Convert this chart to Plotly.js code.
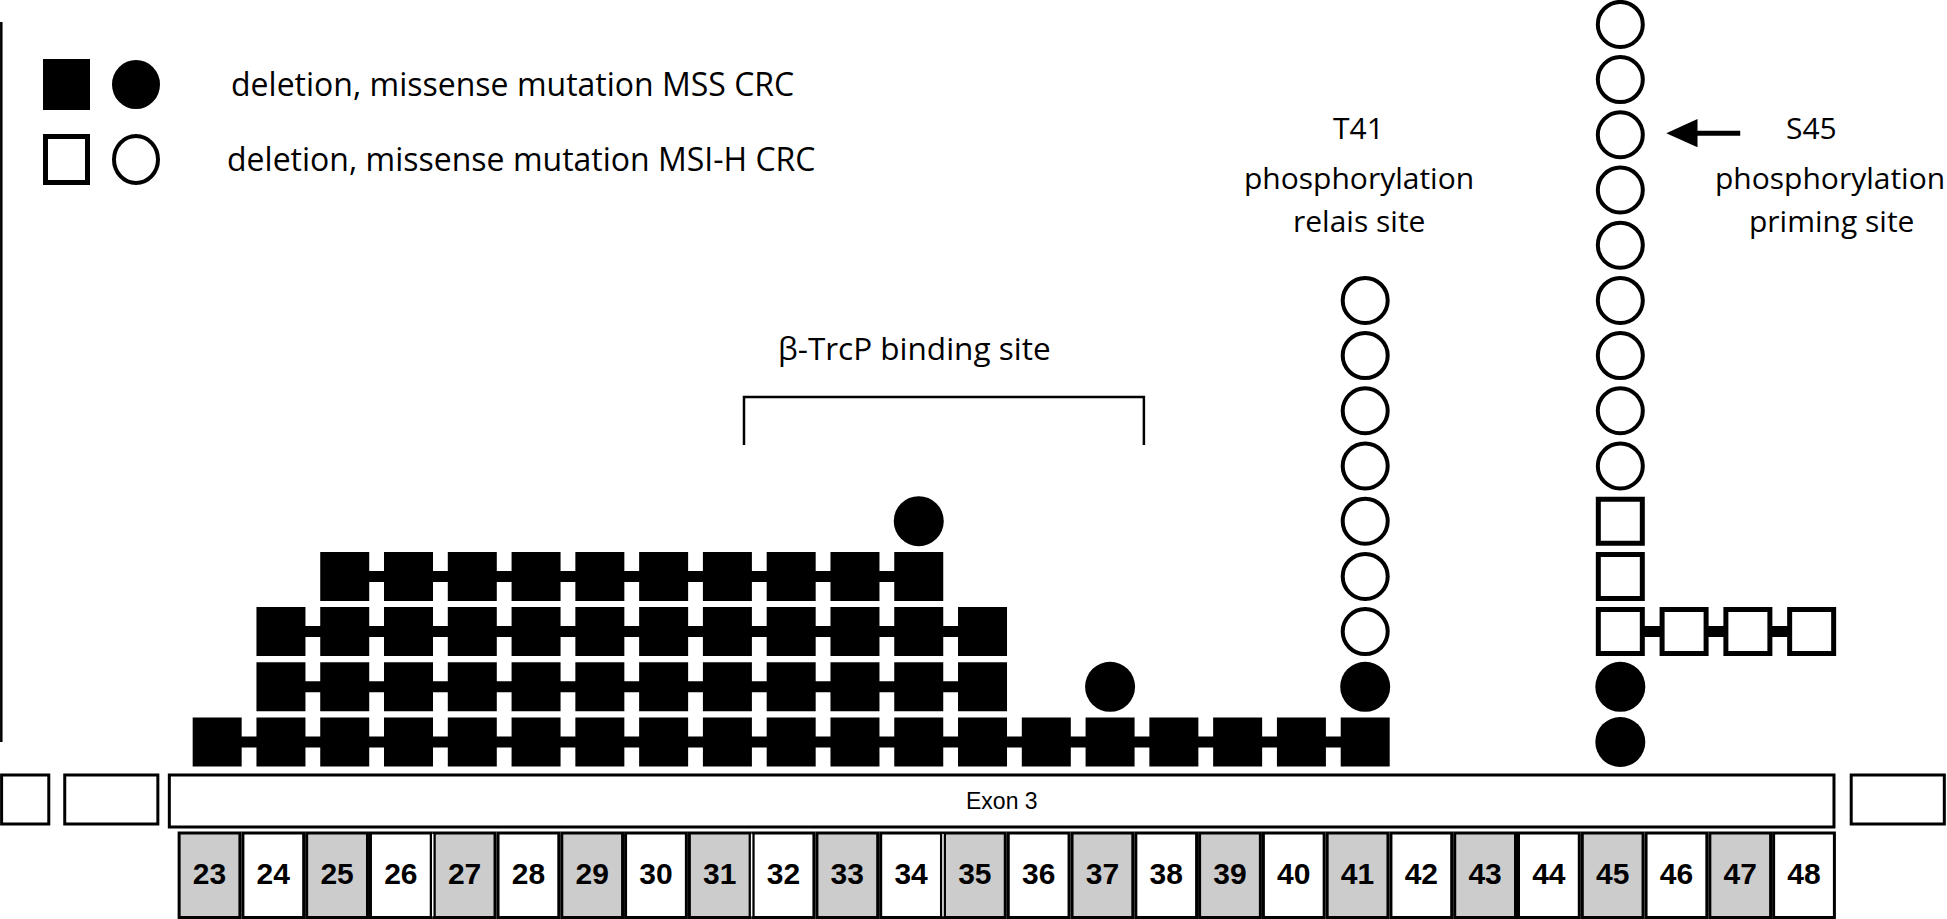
<!DOCTYPE html>
<html><head><meta charset="utf-8">
<script src="https://cdn.plot.ly/plotly-3.0.1.min.js"></script>
<style>html,body{margin:0;padding:0;background:#fff}#chart{width:1947px;height:919px}</style>
</head><body><div id="chart"></div>
<script>
// ---------- data ----------
const residues = [23,24,25,26,27,28,29,30,31,32,33,34,35,36,37,38,39,40,41,42,43,44,45,46,47,48];
const residueGroups = [[23,26],[27,31],[32,34],[35,48]];

// MSS CRC deletions (filled squares, connected): start residue, end residue, stack level
const mssDelStart = [23, 24, 24, 25];
const mssDelEnd   = [41, 35, 35, 34];
const mssDelLevel = [1, 2, 3, 4];

// MSS CRC missense mutations (filled circles)
const mssMisResidue = [34, 37, 41, 45];
const mssMisCount   = [1, 1, 1, 2];
const mssMisLevel   = [5, 2, 2, 1];

// MSI-H CRC deletions (open squares)
const msiDelStart = [45, 45, 45];
const msiDelEnd   = [48, 45, 45];
const msiDelLevel = [3, 4, 5];

// MSI-H CRC missense mutations (open circles)
const msiMisResidue = [41, 45];
const msiMisCount   = [7, 9];
const msiMisLevel   = [3, 6];

const legendLabels = ["deletion, missense mutation MSS CRC", "deletion, missense mutation MSI-H CRC"];
const exonLabel = "Exon 3";
const bindingLabel = "\u03b2-TrcP binding site";
const t41Lines = ["T41", "phosphorylation", "relais site"];
const s45Lines = ["S45", "phosphorylation", "priming site"];

// ---------- layout helpers ----------
const W = 1947, H = 919;
const PX = x => x / W, PY = y => 1 - y / H;
const SHIFT = 0.12;
const range = (a, b) => { const r = []; for (let i = a; i <= b; i++) r.push(i); return r; };
const TXT = "Open Sans, Lato, sans-serif";

const traces = [];
// MSS deletions
mssDelStart.forEach((s, i) => {
  const xs = range(s, mssDelEnd[i]);
  traces.push({type:'scatter', mode:'lines+markers', x: xs.map(v => v + SHIFT), y: xs.map(() => mssDelLevel[i]),
    line:{color:'#000', width:11}, marker:{symbol:'square', size:49, color:'#000', line:{width:0}},
    hoverinfo:'skip', showlegend:false, cliponaxis:false});
});
// MSI deletions
msiDelStart.forEach((s, i) => {
  const xs = range(s, msiDelEnd[i]);
  traces.push({type:'scatter', mode:'lines+markers', x: xs.map(v => v + SHIFT), y: xs.map(() => msiDelLevel[i]),
    line:{color:'#000', width:11}, marker:{symbol:'square', size:44, color:'#fff', line:{color:'#000', width:5}},
    hoverinfo:'skip', showlegend:false, cliponaxis:false});
});
// MSS missense
mssMisResidue.forEach((r, i) => {
  const ys = range(mssMisLevel[i], mssMisLevel[i] + mssMisCount[i] - 1);
  traces.push({type:'scatter', mode:'markers', x: ys.map(() => r + SHIFT), y: ys,
    marker:{symbol:'circle', size:50, color:'#000', line:{width:0}}, hoverinfo:'skip', showlegend:false, cliponaxis:false});
});
// MSI missense
msiMisResidue.forEach((r, i) => {
  const ys = range(msiMisLevel[i], msiMisLevel[i] + msiMisCount[i] - 1);
  traces.push({type:'scatter', mode:'markers', x: ys.map(() => r + SHIFT), y: ys,
    marker:{symbol:'circle', size:45, color:'#fff', line:{color:'#000', width:4}}, hoverinfo:'skip', showlegend:false, cliponaxis:false});
});
// residue labels
const LABEL_ROW = -1.43;
traces.push({type:'scatter', mode:'text', x: residues, y: residues.map(() => LABEL_ROW), text: residues.map(String),
  textposition:'middle center', textfont:{family:'Liberation Sans, Arial, sans-serif', size:30, color:'#000', weight:700},
  hoverinfo:'skip', showlegend:false, cliponaxis:false});

// ---------- shapes ----------
const shapes = [];
const CELL_TOP = -0.649, CELL_BOT = -2.178;
residues.forEach(r => {
  shapes.push({type:'rect', layer:'below', xref:'x', yref:'y', x0:r-0.4765, x1:r+0.4765, y0:CELL_BOT, y1:CELL_TOP,
    fillcolor: (r % 2 === 1) ? '#cccccc' : '#ffffff', line:{color:'#000', width:3}});
});
residueGroups.slice(0, -1).forEach(g => {
  shapes.push({type:'line', layer:'below', xref:'x', yref:'y', x0:g[1]+0.5, x1:g[1]+0.5, y0:CELL_BOT+0.02, y1:CELL_TOP-0.02,
    line:{color:'#fff', width:1.5}});
});
// gene structure boxes
const geneBoxes = [[19.74, 20.48, -0.486], [20.73, 22.19, -0.486], [22.37, 48.47, -0.54], [48.74, 50.20, -0.486]];
geneBoxes.forEach(b => {
  shapes.push({type:'rect', layer:'below', xref:'x', yref:'y', x0:b[0], x1:b[1], y0:b[2], y1:0.40,
    fillcolor:'#fff', line:{color:'#000', width:3}});
});
// binding site bracket
shapes.push({type:'path', xref:'x', yref:'y', path:'M 31.38 6.38 L 31.38 7.25 L 37.65 7.25 L 37.65 6.38', line:{color:'#000', width:2.5}});
// arrow to S45
shapes.push({type:'line', xref:'x', yref:'y', x0:46.30, x1:47.0, y0:12.03, y1:12.03, line:{color:'#000', width:5}});
shapes.push({type:'path', xref:'x', yref:'y', path:'M 45.84 12.03 L 46.33 12.285 L 46.33 11.775 Z', fillcolor:'#000', line:{color:'#000', width:0}});
// left axis line
shapes.push({type:'line', xref:'paper', yref:'paper', x0:PX(1.3), x1:PX(1.3), y0:PY(22), y1:PY(742), line:{color:'#000', width:2.5}});
// legend keys
shapes.push({type:'rect', xref:'paper', yref:'paper', x0:PX(43), x1:PX(90), y0:PY(110), y1:PY(59), fillcolor:'#000', line:{width:0}});
shapes.push({type:'circle', xref:'paper', yref:'paper', x0:PX(112), x1:PX(160), y0:PY(109), y1:PY(60), fillcolor:'#000', line:{width:0}});
shapes.push({type:'rect', xref:'paper', yref:'paper', x0:PX(45.5), x1:PX(87.5), y0:PY(182.5), y1:PY(136.5), fillcolor:'#fff', line:{color:'#000', width:5}});
shapes.push({type:'circle', xref:'paper', yref:'paper', x0:PX(114), x1:PX(158), y0:PY(183), y1:PY(136), fillcolor:'#fff', line:{color:'#000', width:4}});

// ---------- annotations ----------
const ann = [];
const A = (o, size) => Object.assign({showarrow:false, font:{family:TXT, size:size, color:'#000'}}, o);
ann.push(A({xref:'paper', yref:'paper', x:PX(229), y:PY(83), xanchor:'left', yanchor:'middle', text:legendLabels[0]}, 32));
ann.push(A({xref:'paper', yref:'paper', x:PX(225), y:PY(158), xanchor:'left', yanchor:'middle', text:legendLabels[1]}, 32));
ann.push(A({xref:'x', yref:'y', x:34.05, y:8.14, xanchor:'center', yanchor:'middle', text:bindingLabel}, 31.5));
const lineRows = [12.14, 11.22, 10.45];
t41Lines.forEach((t, i) => ann.push(A({xref:'x', yref:'y', x:41.02, y:lineRows[i], xanchor:'center', yanchor:'middle', text:t}, 30)));
ann.push(A({xref:'x', yref:'y', x:48.11, y:lineRows[0], xanchor:'center', yanchor:'middle', text:s45Lines[0]}, 30));
ann.push(A({xref:'x', yref:'y', x:48.40, y:lineRows[1], xanchor:'center', yanchor:'middle', text:s45Lines[1]}, 30));
ann.push(A({xref:'x', yref:'y', x:48.43, y:lineRows[2], xanchor:'center', yanchor:'middle', text:s45Lines[2]}, 30));
ann.push({xref:'x', yref:'y', x:35.42, y:-0.07, showarrow:false, xanchor:'center', yanchor:'middle', text:exonLabel,
  font:{family:'Liberation Sans, Arial, sans-serif', size:23, color:'#000'}});

const layout = {
  width:W, height:H, margin:{l:0, r:0, t:0, b:0}, paper_bgcolor:'#fff', plot_bgcolor:'#fff',
  xaxis:{range:[19.715, 50.242], visible:false, fixedrange:true},
  yaxis:{range:[-2.207, 14.442], visible:false, fixedrange:true},
  shapes:shapes, annotations:ann, showlegend:false, hovermode:false
};
Plotly.newPlot('chart', traces, layout, {displayModeBar:false, staticPlot:true});
</script>
</body></html>
